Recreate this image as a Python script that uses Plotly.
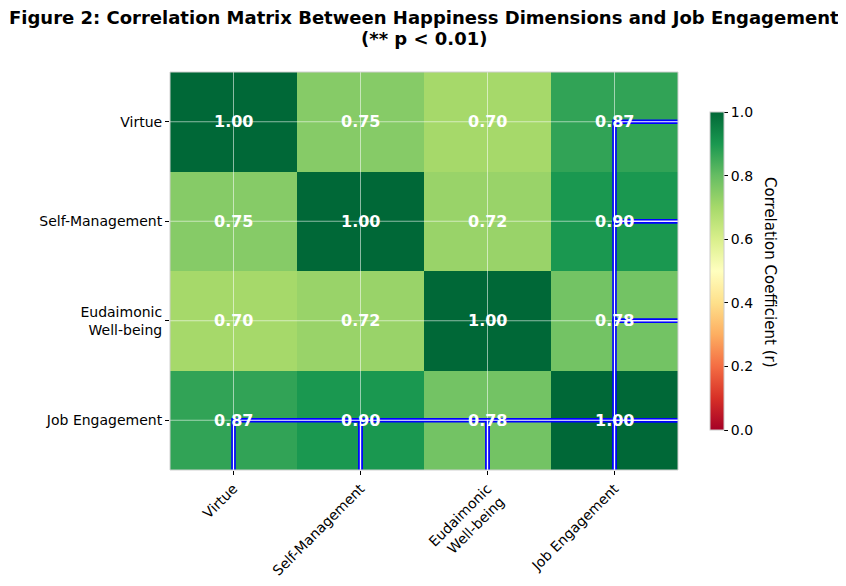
import plotly.graph_objects as go

labels = ["Virtue", "Self-Management", "Eudaimonic<br>Well-being", "Job Engagement"]
corr = [
    [1.00, 0.75, 0.70, 0.87],
    [0.75, 1.00, 0.72, 0.90],
    [0.70, 0.72, 1.00, 0.78],
    [0.87, 0.90, 0.78, 1.00],
]
sig = [
    [False, False, False, True],
    [False, False, False, True],
    [False, False, False, True],
    [True, True, True, True],
]
cbar_ticks = [0.0, 0.2, 0.4, 0.6, 0.8, 1.0]
title_lines = ["Figure 2: Correlation Matrix Between Happiness Dimensions and Job Engagement",
               "(** p < 0.01)"]

n = len(labels)
idx = list(range(n))

PW = 508.0
PH = 398.0
TOP = 64.0
L = 162.0
cb_left = 710 - 8 - L
fig = go.Figure()
fig.add_trace(go.Heatmap(
    z=corr, x=idx, y=idx, zmin=0, zmax=1, colorscale="RdYlGn",
    showscale=True, hoverinfo="skip",
    colorbar=dict(
        x=cb_left / PW, xanchor="left", xpad=0, ypad=0, y=(470 - 271) / PH, yanchor="middle",
        len=318 / PH, lenmode="fraction", thickness=14, thicknessmode="pixels",
        outlinewidth=1, outlinecolor="#cccccc",
        tickvals=cbar_ticks, ticktext=[f"{v:.1f}" for v in cbar_ticks],
        ticks="outside", ticklen=4, tickcolor="black",
        tickfont=dict(size=14, color="black", family="DejaVu Sans"),
    ),
))

shapes = []
for k in idx:
    shapes.append(dict(type="line", xref="x", yref="paper", x0=k, x1=k, y0=0, y1=1,
                       line=dict(color="rgba(255,255,255,0.55)", width=1), layer="above"))
    shapes.append(dict(type="line", xref="paper", yref="y", x0=0, x1=1, y0=k, y1=k,
                       line=dict(color="rgba(255,255,255,0.55)", width=1), layer="above"))
for width, color in [(4.5, "blue"), (1.2, "white")]:
    for i in idx:
        for j in idx:
            if sig[i][j]:
                shapes.append(dict(type="rect", xref="x", yref="y", x0=j, x1=j + 1, y0=i, y1=i + 1,
                                   line=dict(color=color, width=width), fillcolor="rgba(0,0,0,0)",
                                   layer="above"))
shapes.append(dict(type="rect", xref="paper", yref="paper", x0=0, x1=1, y0=0, y1=1,
                   line=dict(color="#d0d0d0", width=1), fillcolor="rgba(0,0,0,0)", layer="above"))

annotations = []
for i in idx:
    for j in idx:
        annotations.append(dict(x=j, y=i, xref="x", yref="y", text=f"<b>{corr[i][j]:.2f}</b>",
                                showarrow=False, font=dict(size=16, color="white", family="DejaVu Sans")))
annotations.append(dict(x=(770 - 8 - L) / PW, y=(470 - 272) / PH, xref="paper", yref="paper",
                        text="Correlation Coefficient (r)",
                        textangle=90, showarrow=False, xanchor="center", yanchor="middle",
                        font=dict(size=15, color="black", family="DejaVu Sans")))
for line, py in zip(title_lines, [10, 31]):
    annotations.append(dict(x=0.5, y=1 + (TOP - py) / PH, xref="paper", yref="paper",
                            xanchor="center", yanchor="middle", text=f"<b>{line}</b>",
                            showarrow=False, font=dict(size=18, color="black", family="DejaVu Sans")))

fig.update_layout(
    width=838, height=578,
    margin=dict(l=L, r=838 - L - PW, t=TOP, b=578 - TOP - PH, autoexpand=False),
    paper_bgcolor="white", plot_bgcolor="white",
    font=dict(family="DejaVu Sans", color="black"),
    shapes=shapes,
    annotations=annotations,
    xaxis=dict(tickvals=idx, ticktext=labels, tickangle=-45, range=[-0.5, n - 0.5], automargin=False,
               showgrid=False, zeroline=False, ticks="outside", ticklen=4, tickcolor="black",
               tickfont=dict(size=14, color="black"), showline=False),
    yaxis=dict(tickvals=idx, ticktext=labels, range=[n - 0.5, -0.5], automargin=False,
               showgrid=False, zeroline=False, ticks="outside", ticklen=4, tickcolor="black",
               tickfont=dict(size=14, color="black"), showline=False),
)

fig.write_html("out.html")
